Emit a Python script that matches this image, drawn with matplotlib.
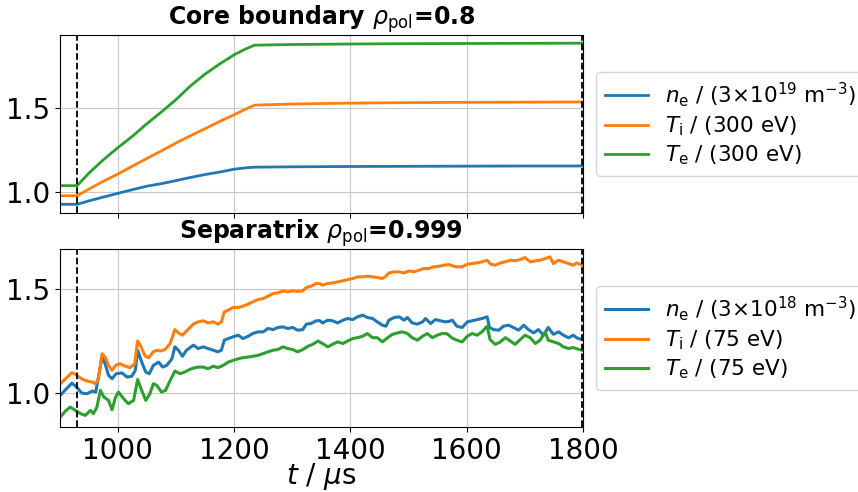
import matplotlib
matplotlib.use("Agg")
import matplotlib.pyplot as plt

# core boundary (rho_pol = 0.8) profiles, normalised
t_core = [900, 930, 950, 975, 1000, 1025, 1050, 1075, 1100, 1125, 1150, 1175,
          1200, 1220, 1235, 1300, 1400, 1500, 1600, 1700, 1798]
ne_core = [0.925, 0.925, 0.945, 0.968, 0.990, 1.012, 1.033, 1.048, 1.066, 1.085,
           1.102, 1.117, 1.134, 1.142, 1.146, 1.148, 1.150, 1.151, 1.152, 1.153, 1.153]
ti_core = [0.976, 0.976, 1.015, 1.062, 1.105, 1.152, 1.198, 1.243, 1.290, 1.333,
           1.375, 1.418, 1.458, 1.492, 1.515, 1.522, 1.527, 1.530, 1.532, 1.533, 1.534]
te_core = [1.036, 1.036, 1.110, 1.190, 1.262, 1.330, 1.405, 1.475, 1.548, 1.630,
           1.700, 1.760, 1.815, 1.850, 1.872, 1.876, 1.879, 1.881, 1.882, 1.883, 1.884]

# separatrix (rho_pol = 0.999) traces
t_ne_sep = [900, 910, 921, 929, 938, 947, 956, 962, 973, 978, 984, 990, 997, 1007,
            1016, 1024, 1030, 1034, 1041, 1048, 1054, 1061, 1070, 1077, 1084, 1093,
            1098, 1104, 1111, 1118, 1124, 1130, 1138, 1147, 1155, 1164, 1172, 1178,
            1183, 1190, 1198, 1207, 1215, 1224, 1232, 1241, 1250, 1258, 1267, 1275,
            1284, 1292, 1301, 1309, 1318, 1324, 1332, 1341, 1347, 1352, 1361, 1369,
            1378, 1387, 1395, 1404, 1412, 1421, 1429, 1438, 1446, 1455, 1461, 1466,
            1475, 1484, 1492, 1498, 1506, 1515, 1524, 1529, 1538, 1546, 1555, 1563,
            1569, 1575, 1583, 1592, 1601, 1609, 1618, 1626, 1635, 1639, 1646, 1655,
            1663, 1672, 1680, 1689, 1698, 1706, 1715, 1723, 1732, 1740, 1749, 1758,
            1766, 1775, 1783, 1790, 1798]
ne_sep = [0.985, 1.014, 1.046, 1.027, 0.998, 0.995, 1.008, 1.003, 1.175, 1.139,
          1.083, 1.067, 1.091, 1.095, 1.075, 1.079, 1.107, 1.204, 1.147, 1.099,
          1.091, 1.131, 1.147, 1.123, 1.131, 1.163, 1.220, 1.204, 1.175, 1.204,
          1.216, 1.228, 1.212, 1.220, 1.212, 1.204, 1.196, 1.204, 1.252, 1.260,
          1.268, 1.276, 1.260, 1.271, 1.284, 1.292, 1.292, 1.308, 1.303, 1.313,
          1.316, 1.308, 1.313, 1.300, 1.303, 1.329, 1.332, 1.345, 1.346, 1.335,
          1.348, 1.345, 1.335, 1.348, 1.356, 1.351, 1.364, 1.372, 1.361, 1.356,
          1.340, 1.324, 1.319, 1.348, 1.361, 1.364, 1.348, 1.361, 1.335, 1.329,
          1.340, 1.356, 1.332, 1.351, 1.345, 1.340, 1.342, 1.348, 1.319, 1.313,
          1.340, 1.345, 1.351, 1.356, 1.364, 1.313, 1.303, 1.300, 1.319, 1.324,
          1.313, 1.300, 1.324, 1.303, 1.287, 1.303, 1.276, 1.313, 1.280, 1.292,
          1.276, 1.264, 1.276, 1.262, 1.255]

t_ti_sep = [900, 910, 921, 927, 933, 941, 950, 956, 961, 966, 973, 978, 984, 990,
            996, 1004, 1013, 1021, 1029, 1034, 1040, 1047, 1053, 1061, 1067, 1073,
            1081, 1090, 1098, 1104, 1111, 1118, 1124, 1130, 1138, 1147, 1155, 1164,
            1172, 1178, 1183, 1190, 1198, 1207, 1215, 1224, 1232, 1241, 1250, 1258,
            1267, 1275, 1284, 1292, 1301, 1309, 1318, 1324, 1332, 1341, 1347, 1352,
            1361, 1369, 1378, 1387, 1395, 1404, 1412, 1421, 1429, 1438, 1446, 1455,
            1461, 1466, 1475, 1484, 1492, 1501, 1509, 1518, 1526, 1535, 1543, 1552,
            1561, 1569, 1575, 1583, 1592, 1601, 1609, 1618, 1626, 1635, 1641, 1649,
            1658, 1666, 1675, 1683, 1692, 1700, 1709, 1718, 1726, 1735, 1743, 1749,
            1758, 1766, 1775, 1783, 1789, 1798]
ti_sep = [1.040, 1.067, 1.096, 1.088, 1.075, 1.062, 1.054, 1.051, 1.043, 1.059,
          1.187, 1.171, 1.131, 1.107, 1.131, 1.139, 1.127, 1.120, 1.139, 1.248,
          1.220, 1.175, 1.168, 1.196, 1.204, 1.200, 1.207, 1.236, 1.303, 1.287,
          1.276, 1.296, 1.312, 1.330, 1.340, 1.345, 1.335, 1.340, 1.329, 1.340,
          1.388, 1.396, 1.409, 1.409, 1.415, 1.425, 1.436, 1.447, 1.452, 1.463,
          1.476, 1.479, 1.489, 1.484, 1.489, 1.486, 1.489, 1.505, 1.511, 1.524,
          1.524, 1.516, 1.524, 1.527, 1.532, 1.537, 1.543, 1.548, 1.556, 1.556,
          1.559, 1.556, 1.553, 1.548, 1.559, 1.575, 1.580, 1.580, 1.575, 1.585,
          1.580, 1.588, 1.596, 1.596, 1.604, 1.607, 1.612, 1.615, 1.609, 1.604,
          1.604, 1.617, 1.620, 1.623, 1.628, 1.636, 1.617, 1.612, 1.623, 1.628,
          1.636, 1.633, 1.639, 1.649, 1.628, 1.633, 1.636, 1.644, 1.652, 1.620,
          1.636, 1.628, 1.620, 1.612, 1.623, 1.612]

t_te_sep = [900, 910, 918, 927, 936, 944, 953, 958, 964, 970, 976, 984, 990, 996,
            1001, 1010, 1018, 1027, 1034, 1041, 1048, 1055, 1061, 1067, 1075, 1082,
            1090, 1098, 1107, 1115, 1124, 1130, 1138, 1147, 1155, 1164, 1172, 1181,
            1190, 1198, 1207, 1215, 1224, 1232, 1241, 1250, 1258, 1267, 1275, 1284,
            1292, 1301, 1309, 1318, 1327, 1335, 1344, 1352, 1361, 1369, 1378, 1387,
            1395, 1404, 1412, 1421, 1429, 1438, 1446, 1455, 1464, 1472, 1481, 1489,
            1498, 1506, 1515, 1524, 1532, 1541, 1549, 1558, 1566, 1575, 1583, 1592,
            1601, 1609, 1618, 1626, 1635, 1640, 1649, 1658, 1666, 1675, 1683, 1692,
            1700, 1709, 1718, 1726, 1735, 1740, 1749, 1758, 1766, 1775, 1783, 1790,
            1798]
te_sep = [0.880, 0.912, 0.931, 0.915, 0.899, 0.891, 0.915, 0.899, 0.931, 1.011,
          0.979, 0.963, 0.918, 0.979, 1.003, 0.971, 0.947, 0.963, 1.063, 1.011,
          0.963, 0.995, 1.043, 1.035, 1.003, 1.011, 1.059, 1.104, 1.091, 1.099,
          1.112, 1.118, 1.123, 1.123, 1.115, 1.127, 1.120, 1.131, 1.147, 1.155,
          1.163, 1.168, 1.171, 1.175, 1.179, 1.188, 1.196, 1.204, 1.207, 1.220,
          1.212, 1.207, 1.196, 1.207, 1.223, 1.232, 1.248, 1.236, 1.220, 1.232,
          1.244, 1.236, 1.248, 1.260, 1.264, 1.271, 1.284, 1.264, 1.264, 1.244,
          1.264, 1.280, 1.287, 1.292, 1.284, 1.264, 1.252, 1.271, 1.284, 1.264,
          1.276, 1.284, 1.283, 1.262, 1.252, 1.244, 1.271, 1.284, 1.276, 1.292,
          1.319, 1.255, 1.232, 1.244, 1.264, 1.248, 1.232, 1.255, 1.276, 1.264,
          1.236, 1.252, 1.292, 1.252, 1.244, 1.236, 1.220, 1.212, 1.217, 1.210,
          1.204]

core_labels = [r"$n_{\rm e}$ / (3$\times$10$^{19}$ m$^{-3}$)",
               r"$T_{\rm i}$ / (300 eV)",
               r"$T_{\rm e}$ / (300 eV)"]
sep_labels = [r"$n_{\rm e}$ / (3$\times$10$^{18}$ m$^{-3}$)",
              r"$T_{\rm i}$ / (75 eV)",
              r"$T_{\rm e}$ / (75 eV)"]

t_window = (930, 1798)

fig = plt.figure(figsize=(8.58, 4.92), dpi=100)
ax1 = fig.add_axes([0.0696, 0.567, 0.610, 0.362])
ax2 = fig.add_axes([0.0696, 0.132, 0.610, 0.362], sharex=ax1)

ax1.plot(t_core, ne_core, color="C0", lw=2, label=core_labels[0])
ax1.plot(t_core, ti_core, color="C1", lw=2, label=core_labels[1])
ax1.plot(t_core, te_core, color="C2", lw=2, label=core_labels[2])

ax2.plot(t_ne_sep, ne_sep, color="C0", lw=2.2, label=sep_labels[0])
ax2.plot(t_ti_sep, ti_sep, color="C1", lw=2.2, label=sep_labels[1])
ax2.plot(t_te_sep, te_sep, color="C2", lw=2.2, label=sep_labels[2])

for ax in (ax1, ax2):
    for tv in t_window:
        ax.axvline(tv, color="k", ls="--", lw=1.3)
    ax.grid(True, color="#c8c8c8")
    ax.tick_params(labelsize=20)
    ax.legend(loc="center left", bbox_to_anchor=(1.005, 0.5), fontsize=15.5,
              labelspacing=0.25)

ax1.set_title(r"Core boundary $\rho_{\rm pol}$=0.8", fontsize=17, fontweight="bold")
ax2.set_title(r"Separatrix $\rho_{\rm pol}$=0.999", fontsize=17, fontweight="bold")

ax1.set_xlim(900, 1800)
ax1.set_ylim(0.873, 1.933)
ax2.set_ylim(0.835, 1.69)
ax1.set_yticks([1.0, 1.5])
ax2.set_yticks([1.0, 1.5])
ax2.set_xticks([1000, 1200, 1400, 1600, 1800])
ax1.tick_params(labelbottom=False)
ax2.set_xlabel(r"$t$ / $\mu$s", fontsize=20, labelpad=-3)

fig.savefig("out.png", dpi=100)
